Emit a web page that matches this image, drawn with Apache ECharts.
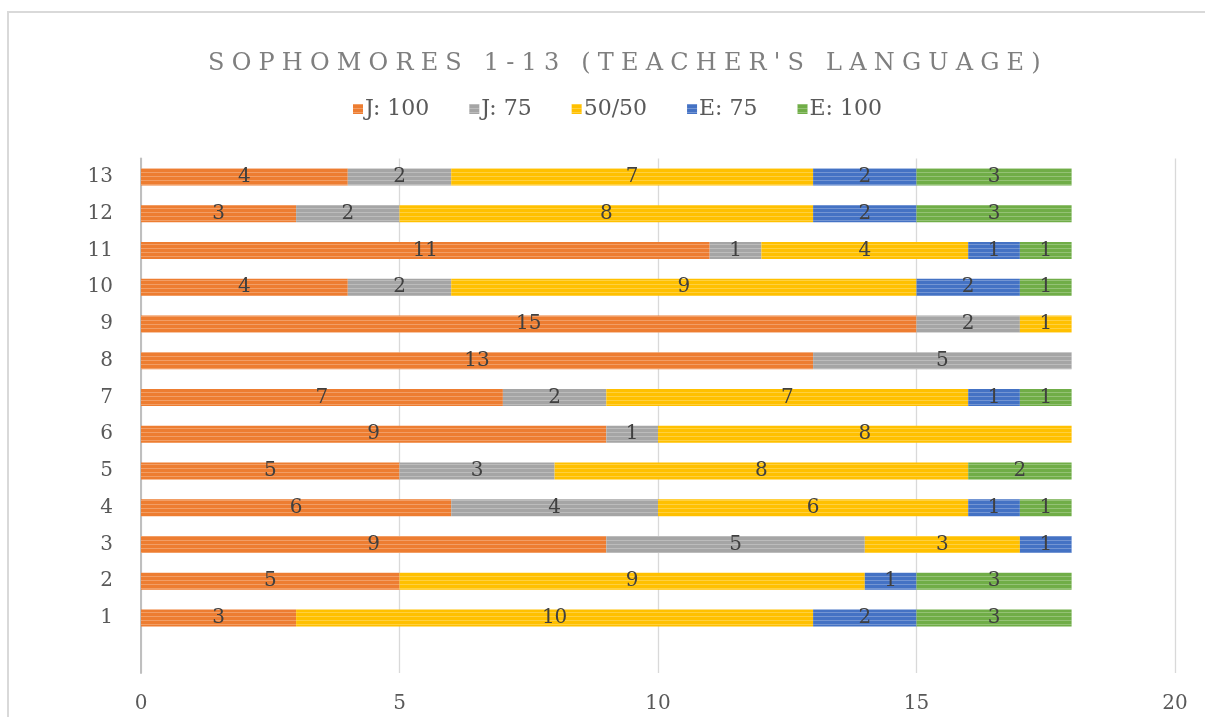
<!DOCTYPE html>
<html>
<head>
<meta charset="utf-8">
<script src="https://cdn.jsdelivr.net/npm/echarts@6/dist/echarts.min.js"></script>
<style>
html,body{margin:0;padding:0;background:#fff;}
#frame{position:absolute;left:7px;top:11px;width:1200px;height:710px;border-left:2px solid #d9d9d9;border-top:2px solid #d9d9d9;}
#chart{position:absolute;left:0;top:0;width:1205px;height:717px;}
</style>
</head>
<body>
<div id="frame"></div>
<div id="chart"></div>
<script>
const categories = ['', '1', '2', '3', '4', '5', '6', '7', '8', '9', '10', '11', '12', '13'];
const seriesNames = ['J: 100', 'J: 75', '50/50', 'E: 75', 'E: 100'];
const j100 = [null, 3, 5, 9, 6, 5, 9, 7, 13, 15, 4, 11, 3, 4];
const j75  = [null, 0, 0, 5, 4, 3, 1, 2, 5, 2, 2, 1, 2, 2];
const mid  = [null, 10, 9, 3, 6, 8, 8, 7, 0, 1, 9, 4, 8, 7];
const e75  = [null, 2, 1, 1, 1, 0, 0, 1, 0, 0, 2, 1, 2, 2];
const e100 = [null, 3, 3, 0, 1, 2, 0, 1, 0, 0, 1, 1, 3, 3];
const xTicks = [0, 5, 10, 15, 20];
const colors = ['#ED7D31', '#A5A5A5', '#FFC000', '#4472C4', '#70AD47'];
const titleText = "SOPHOMORES 1-13 (TEACHER'S LANGUAGE)";

const serif = '"DejaVu Serif", "Liberation Serif", serif';
const spaced = titleText.split('').join('\u2009\u200A');
const chart = echarts.init(document.getElementById('chart'));
const allData = [j100, j75, mid, e75, e100];
chart.setOption({
  animation: false,
  color: colors,
  title: {
    text: spaced,
    left: 203, top: 47,
    textStyle: {fontFamily: serif, fontSize: 24, fontWeight: 'normal', color: '#7f7f7f'}
  },
  legend: {
    data: seriesNames, top: 93, left: 348,
    itemWidth: 10, itemHeight: 10, itemGap: 40,
    icon: 'rect',
    textStyle: {fontFamily: serif, fontSize: 22, color: '#595959', padding: [0,0,0,-3]}
  },
  grid: {left: 141, right: 30, top: 158.5, bottom: 44, containLabel: false},
  xAxis: {
    type: 'value', min: 0, max: 20, interval: 5,
    axisLine: {show: false}, axisTick: {show: false},
    splitLine: {lineStyle: {color: '#d9d9d9', width: 1.3}},
    axisLabel: {fontFamily: serif, fontSize: 20, color: '#595959', margin: 21,
      formatter: v => (xTicks.indexOf(v) >= 0 ? String(v) : '')}
  },
  yAxis: {
    type: 'category', data: categories,
    axisLine: {lineStyle: {color: '#bfbfbf', width: 2}},
    axisTick: {show: false},
    axisLabel: {fontFamily: serif, fontSize: 20, color: '#595959', margin: 28}
  },
  series: seriesNames.map((n, i) => ({
    name: n, type: 'bar', stack: 'total', barWidth: 17,
    data: allData[i].map(v => (v === 0 ? null : v)),
    itemStyle: {
      color: colors[i],
      decal: {symbol: 'rect', dashArrayX: [1, 0], dashArrayY: [1, 3], color: 'rgba(255,255,255,0.25)', rotation: 0, symbolSize: 1}
    },
    label: {
      show: true, position: 'inside', fontFamily: serif, fontSize: 20, color: '#404040',
      formatter: p => (p.value ? String(p.value) : '')
    }
  }))
});
</script>
</body>
</html>
